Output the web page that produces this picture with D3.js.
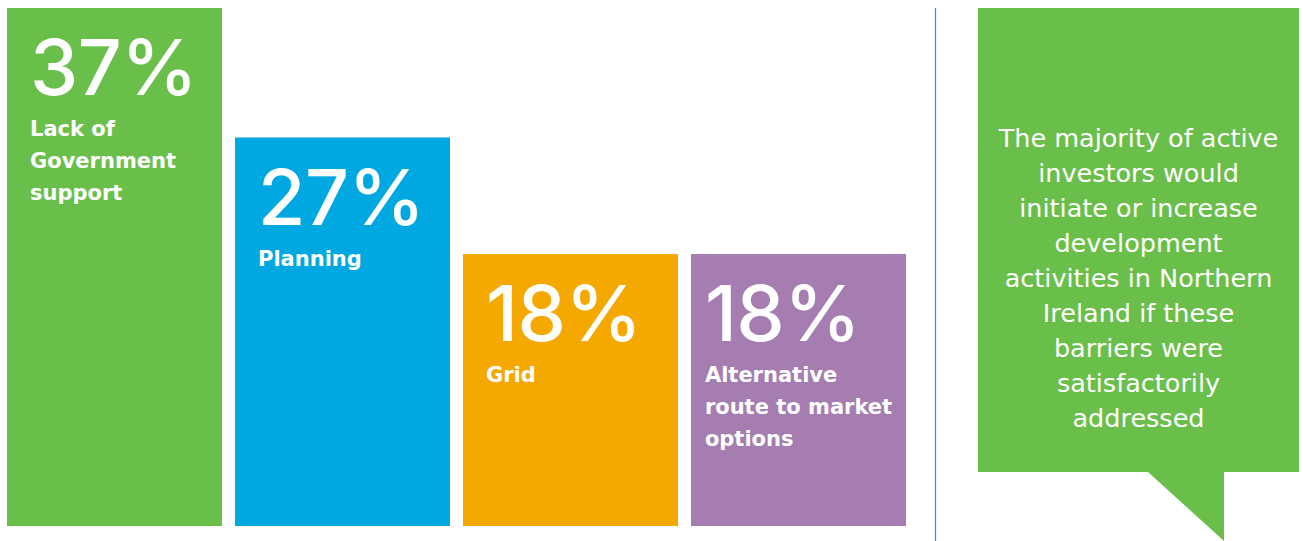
<!DOCTYPE html>
<html>
<head>
<meta charset="utf-8">
<script src="https://cdn.jsdelivr.net/npm/d3@7"></script>
<style>
  html, body { margin: 0; padding: 0; background: #ffffff; }
  svg { display: block; }
</style>
</head>
<body>
<svg id="chart" width="1303" height="541"></svg>
<script>
// Barriers to investment: share of active investors citing each barrier
const categories = ["Lack of Government support", "Planning", "Grid", "Alternative route to market options"];
const labelLines = [
  ["Lack of", "Government", "support"],
  ["Planning"],
  ["Grid"],
  ["Alternative", "route to market", "options"]
];
const values = [37, 27, 18, 18];
const valueLabels = ["37%", "27%", "18%", "18%"];
const barColors = ["#6abf4b", "#00a8e1", "#f5a800", "#a57db1"];
const calloutLines = [
  "The majority of active",
  "investors would",
  "initiate or increase",
  "development",
  "activities in Northern",
  "Ireland if these",
  "barriers were",
  "satisfactorily",
  "addressed"
];

const svg = d3.select("#chart");
const numberFont = "Inter, 'Open Sans', sans-serif";
const labelFont = "'DejaVu Sans', Inter, sans-serif";

const x = d3.scaleBand()
  .domain(categories)
  .range([7, 906])
  .paddingInner(13 / 228)
  .paddingOuter(0);

const y = d3.scaleLinear()
  .domain([-3, 37])
  .range([526, 8]);

const bars = svg.append("g").selectAll("g.bar")
  .data(categories.map((c, i) => ({ c, v: values[i], label: valueLabels[i], lines: labelLines[i], color: barColors[i] })))
  .join("g")
  .attr("class", "bar");

bars.append("rect")
  .attr("x", d => x(d.c))
  .attr("y", d => y(d.v))
  .attr("width", x.bandwidth())
  .attr("height", d => y.range()[0] - y(d.v))
  .attr("fill", d => d.color);

bars.each(function (d) {
  const g = d3.select(this);
  const top = y(d.v);
  const left = x(d.c);
  const lines = g.append("g");
  const num = g.append("text")
    .attr("y", top + 87)
    .attr("fill", "#ffffff")
    .attr("font-family", numberFont)
    .attr("font-weight", 500)
    .attr("font-size", 77)
    .attr("letter-spacing", -0.5)
    .text(d.label);
  d.lines.forEach((t, k) => {
    lines.append("text")
      .attr("y", top + 128 + k * 32)
      .attr("fill", "#ffffff")
      .attr("font-family", labelFont)
      .attr("font-weight", 700)
      .attr("font-size", 21)
      .text(t);
  });
  // inset the text block, tighter when the longest line is wide
  const widest = d3.max(lines.selectAll("text").nodes(), n => n.getComputedTextLength());
  const pad = Math.min(23, (x.bandwidth() - widest) / 2);
  num.attr("x", left + pad);
  lines.selectAll("text").attr("x", left + pad);
});

// vertical divider
svg.append("line")
  .attr("x1", 935.5).attr("x2", 935.5)
  .attr("y1", 8).attr("y2", 541)
  .attr("stroke", "#1a9fd6")
  .attr("stroke-width", 1.2);

// speech-bubble callout
const callout = svg.append("g");
callout.append("path")
  .attr("d", "M978,8 H1299 V472 H1224 V541 L1148,472 H978 Z")
  .attr("fill", "#6abf4b");

callout.append("g").selectAll("text")
  .data(calloutLines)
  .join("text")
  .attr("x", 1138.5)
  .attr("y", (d, i) => 147 + i * 35)
  .attr("text-anchor", "middle")
  .attr("fill", "#ffffff")
  .attr("font-family", labelFont)
  .attr("font-weight", 400)
  .attr("font-size", 25.5)
  .text(d => d);
</script>
</body>
</html>
